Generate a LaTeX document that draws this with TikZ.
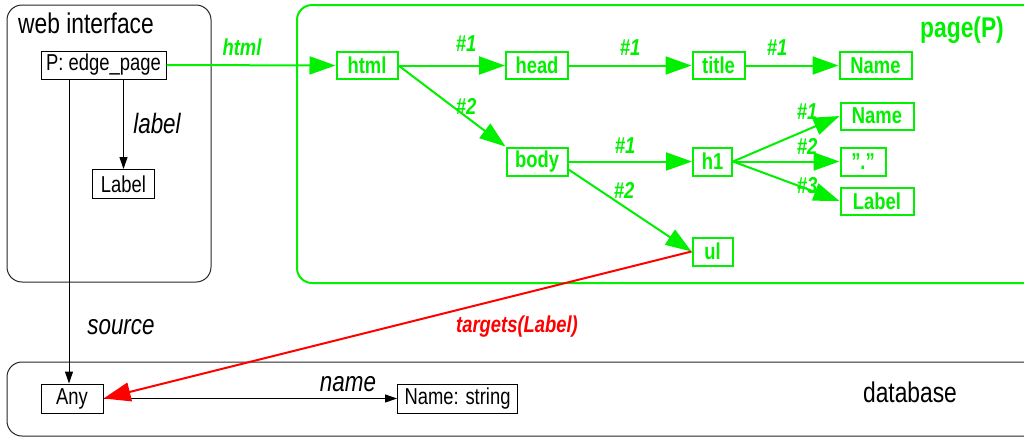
\documentclass[tikz,border=0pt]{standalone}
\usepackage{fontspec}
\setmainfont{Liberation Sans}[FakeStretch=0.8]
\usetikzlibrary{arrows.meta}
\definecolor{webgreen}{RGB}{0,240,0}
\definecolor{webred}{RGB}{255,0,0}
\begin{document}
\begin{tikzpicture}[x=1pt, y=-1pt,
  txt/.style={font=\fontsize{23}{27}\selectfont},
  head/.style={font=\fontsize{28.5}{32}\selectfont, anchor=west, inner sep=0},
  bbox/.style={txt, draw, line width=1pt, inner sep=0, minimum height=28pt},
  gbox/.style={txt, draw=webgreen, text=webgreen, line width=2pt, inner sep=0,
               minimum height=27pt, font=\fontsize{23}{27}\selectfont\bfseries},
  elabel/.style={inner sep=0, font=\fontsize{28}{32}\selectfont\itshape},
  glabel/.style={inner sep=0, text=webgreen, font=\fontsize{23}{27}\selectfont\bfseries\itshape},
  frame/.style={rounded corners=15pt, line width=1pt},
  blk/.style={line width=1pt, -{Triangle[length=12pt,width=8pt]}},
  grn/.style={draw=webgreen, line width=2pt, -{Triangle[length=26pt,width=18pt]}, webgreen},
  rd/.style={draw=webred, line width=2pt, -{Triangle[length=27pt,width=19pt]}, webred}
]
\useasboundingbox (0,0) rectangle (1024,437);
\clip (0,0) rectangle (1024,437);

% frames
\draw[frame, draw=black!85] (7,5) rectangle (211,282);
\draw[frame, draw=webgreen, line width=2pt] (297,5) rectangle (1040,283);
\draw[frame, draw=black!85] (7,362) rectangle (1040,436);

\node[head] (webtitle) at (18,23) {web interface};
\node[head, text=webgreen, font=\fontsize{28.5}{32}\selectfont\bfseries, anchor=center] (pagetitle) at (962,30) {page(P)};
\node[head, anchor=center] (dbtitle) at (910,392) {database};

% web interface side
\node[bbox, minimum width=125pt] (P) at (103.5,65) {P: edge\_page};
\node[bbox, minimum width=62pt, minimum height=29pt] (Lbl) at (123.5,184) {Label};

% database side
\node[bbox, minimum width=62pt, minimum height=29pt] (Any) at (72,398.5) {Any};
\node[bbox, minimum width=120pt, minimum height=29pt] (Nstr) at (457.5,398.5) {Name: string};

% page tree
\node[gbox, minimum width=61pt] (html) at (367,65.5) {html};
\node[gbox, minimum width=62pt] (hd) at (537,65.5) {head};
\node[gbox, minimum width=52pt] (ttl) at (718.5,65.5) {title};
\node[gbox, minimum width=72pt] (nm1) at (875.5,65.5) {Name};
\node[gbox, minimum width=61pt, minimum height=28pt] (bdy) at (537,161.5) {body};
\node[gbox, minimum width=39pt, minimum height=28pt] (hone) at (712.5,161.5) {h1};
\node[gbox, minimum width=73pt] (nm2) at (877,116) {Name};
\node[gbox, minimum width=45pt, minimum height=28pt] (dot) at (863,161.5) {"."};
\node[gbox, minimum width=73pt] (lbl2) at (877,201) {Label};
\node[gbox, minimum width=40pt, minimum height=28pt] (ul) at (712.5,251.5) {ul};

% connectors inside the web interface and database
\draw[blk] (P.south -| Lbl.north) -- (Lbl.north);
\draw[blk] ([xshift=-3pt]P.south -| Any.north) -- ([xshift=-3pt]Any.north);
\draw[blk] (Any.east) -- (Nstr.west);

% html link into the page
\draw[grn] (P.east) -- (html.west);

% page tree edges
\draw[grn] (html.east) -- (hd.west);
\draw[grn] (html.east) -- (bdy.north west);
\draw[grn] (hd.east) -- (ttl.west);
\draw[grn] (ttl.east) -- (nm1.west);
\draw[grn] (bdy.east) -- (hone.west);
\draw[grn] ([yshift=-8pt]bdy.east) -- (ul.west);
\draw[grn] (hone.east) -- (nm2.west);
\draw[grn] (hone.east) -- (dot.west);
\draw[grn] (hone.east) -- (lbl2.west);

% targets edge back to the database
\draw[rd] (ul.west) -- (Any.east);

% edge labels
\node[elabel] (lLabel) at (157,123) {label};
\node[elabel] (lSource) at (121,327) {source};
\node[elabel] (lName) at (348,384) {name};
\node[glabel] (lHtml) at (242,47) {html};
\node[glabel, text=webred] (lTargets) at (517,327) {targets(Label)};
\node[glabel] (e1) at (466,44) {\#1};
\node[glabel] (e2) at (466,106) {\#2};
\node[glabel] (e3) at (630,48) {\#1};
\node[glabel] (e4) at (777,48) {\#1};
\node[glabel] (e5) at (625,146) {\#1};
\node[glabel] (e6) at (624,190) {\#2};
\node[glabel] (e7) at (807,112) {\#1};
\node[glabel] (e8) at (807,146) {\#2};
\node[glabel] (e9) at (807,186) {\#3};
\end{tikzpicture}
\end{document}
